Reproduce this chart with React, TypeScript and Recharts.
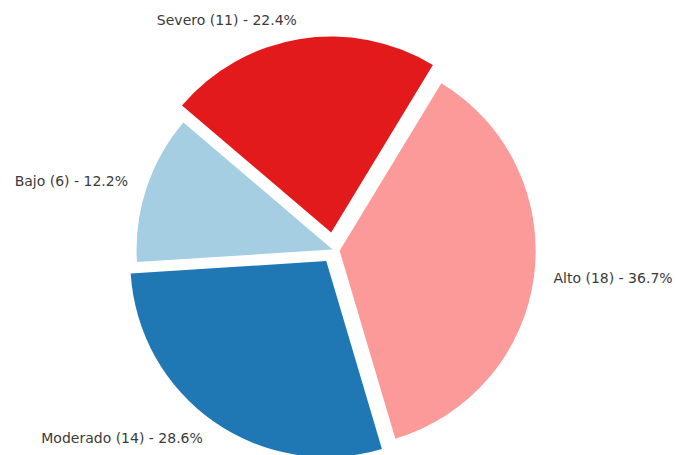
import React from 'react';
import { PieChart, Pie, Cell } from 'recharts';

document.body.style.margin = '0';

// Data - severity levels
const categories = ['Alto', 'Severo', 'Bajo', 'Moderado'];
const counts = [18, 11, 6, 14];

// Paired palette, one per slice
const COLORS = ['#fb9a99', '#e31a1c', '#a6cee3', '#1f78b4'];
// how far each slice is pushed out (px)
const EXPLODE = [5.7, 17.7, 1.5, 13.5];

const START_ANGLE = -73.5;
const RADIUS = 196;
const CENTER_X = 334;
const CENTER_Y = 250;

const total = counts.reduce((a, b) => a + b, 0);
const data = categories.map((name, i) => ({ name, value: counts[i] }));

// mid angle of every slice, used to push it out
const midAngles = counts.map((v, i) => {
  const before = counts.slice(0, i).reduce((a, b) => a + b, 0);
  return START_ANGLE + ((before + v / 2) / total) * 360;
});

const makeLabel = (target: number) => (props: any) => {
  if (props.index !== target) return null;
  const { cx, cy, midAngle, outerRadius } = props;
  const rad = (-midAngle * Math.PI) / 180;
  const r = outerRadius * 1.1;
  const x = cx + r * Math.cos(rad);
  const y = cy + r * Math.sin(rad);
  const pct = ((counts[target] / total) * 100).toFixed(1);
  return (
    <text
      x={x}
      y={y}
      textAnchor={x > cx ? 'start' : 'end'}
      dominantBaseline="central"
      fill="#3a3a3a"
      fontSize={14}
      fontFamily="DejaVu Sans"
    >
      {`${categories[target]} (${counts[target]}) - ${pct}%`}
    </text>
  );
};

const App = () => {
  return (
    <div style={{ width: 676, height: 455, background: '#fff' }}>
      <PieChart width={676} height={455} margin={{ top: 0, right: 0, bottom: 0, left: 0 }}>
        {/* one pie per slice so every slice can be exploded on its own */}
        {categories.map((_, k) => {
          const rad = (-midAngles[k] * Math.PI) / 180;
          return (
            <Pie
              key={k}
              data={data}
              dataKey="value"
              nameKey="name"
              cx={CENTER_X + EXPLODE[k] * Math.cos(rad)}
              cy={CENTER_Y + EXPLODE[k] * Math.sin(rad)}
              outerRadius={RADIUS}
              startAngle={START_ANGLE}
              endAngle={START_ANGLE + 360}
              stroke="none"
              label={makeLabel(k)}
              labelLine={false}
              isAnimationActive={false}
            >
              {data.map((entry, i) => (
                <Cell key={`cell-${i}`} fill={i === k ? COLORS[i] : 'transparent'} />
              ))}
            </Pie>
          );
        })}
      </PieChart>
    </div>
  );
};

export default App;
